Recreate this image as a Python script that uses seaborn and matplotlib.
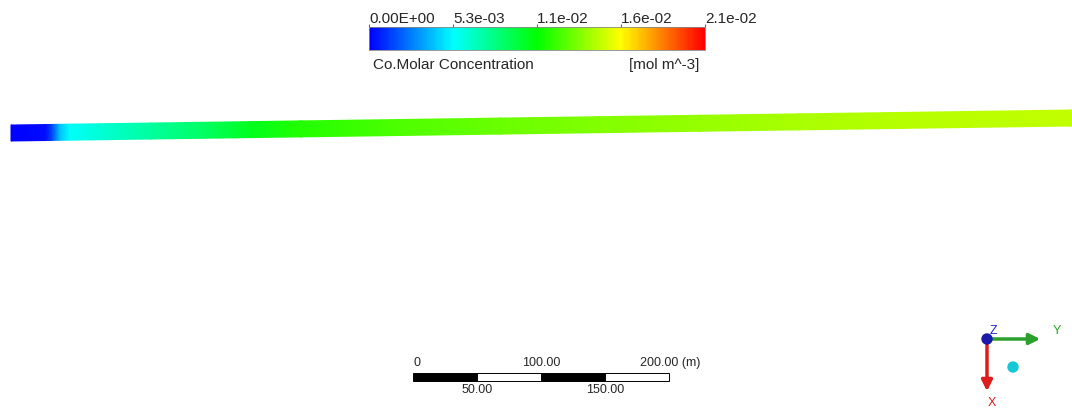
import numpy as np
import matplotlib
matplotlib.use("Agg")
import matplotlib.pyplot as plt
import seaborn as sns
from matplotlib.patches import Rectangle, Circle

sns.set_style("white")
plt.rcParams['font.family'] = ['Liberation Sans', 'DejaVu Sans']

# Co molar concentration along the pipe (distance from inlet in m, mol m^-3)
pipe_dist = [0, 27, 32, 38, 46, 70, 109, 148, 187, 226, 304, 382, 460, 538, 616, 695, 829]
pipe_conc = [0.0, 0.0003, 0.0015, 0.0040, 0.0054, 0.0061, 0.0073, 0.0084, 0.0099,
             0.0112, 0.0121, 0.0127, 0.0132, 0.0136, 0.0140, 0.0142, 0.0145]

# legend / colorbar
cbar_min, cbar_max = 0.0, 0.021
cbar_ticks = [0.0, 0.00525, 0.0105, 0.01575, 0.021]
cbar_labels = ["0.00E+00", "5.3e-03", "1.1e-02", "1.6e-02", "2.1e-02"]

# scale bar (m)
scale_marks = [0, 50, 100, 150, 200]
scale_labels = ["0", "50.00", "100.00", "150.00", "200.00 (m)"]

W, H = 1072, 408
PX_PER_M = 1.28

# CFX style rainbow map
cmap = sns.blend_palette(["#0000ff", "#00ffff", "#00ff00", "#ffff00", "#ff0000"], n_colors=256, as_cmap=True)

fig = plt.figure(figsize=(W / 100, H / 100), dpi=100)
fig.patch.set_facecolor("white")
ax = fig.add_axes([0, 0, 1, 1])
ax.set_xlim(0, W)
ax.set_ylim(H, 0)
ax.axis("off")

# pipe contour (slightly tilted strip)
inlet_x, inlet_y = 11, 133
rise = -15 / 1061
half = 8
xs = inlet_x + np.array(pipe_dist) * PX_PER_M
yc = inlet_y + (xs - inlet_x) * rise
X = np.vstack([xs, xs])
Y = np.vstack([yc - half, yc + half])
C = np.vstack([pipe_conc, pipe_conc])
ax.pcolormesh(X, Y, C, shading="gouraud", cmap=cmap, vmin=cbar_min, vmax=cbar_max)

# colorbar drawn as a 1-row heatmap
cax = fig.add_axes([369 / W, 1 - 50 / H, 336 / W, 23 / H])
n = 300
grad = np.linspace(cbar_min, cbar_max, n)[None, :]
sns.heatmap(grad, cmap=cmap, vmin=cbar_min, vmax=cbar_max, cbar=False,
            xticklabels=False, yticklabels=False, ax=cax)
cax.xaxis.tick_top()
cax.set_xticks(np.array(cbar_ticks) / cbar_max * n)
cax.set_xticklabels(cbar_labels, ha="left", fontsize=11)
cax.tick_params(axis="x", top=True, bottom=False, length=2.5, width=0.8,
                color="#666666", pad=-2)
for s in cax.spines.values():
    s.set_visible(True)
    s.set_linewidth(0.6)
    s.set_color("#888888")

ax.text(373, 65, "Co.Molar Concentration", fontsize=11, va="center", ha="left")
ax.text(699, 65, "[mol m^-3]", fontsize=11, va="center", ha="right")

# scale bar
sb_x, sb_top, sb_h = 413, 373, 8
for i in range(len(scale_marks) - 1):
    x0 = sb_x + scale_marks[i] * PX_PER_M
    w = (scale_marks[i + 1] - scale_marks[i]) * PX_PER_M
    ax.add_patch(Rectangle((x0, sb_top), w, sb_h, facecolor="black" if i % 2 == 0 else "white",
                           edgecolor="black", linewidth=0.7))
for i, (m, lab) in enumerate(zip(scale_marks, scale_labels)):
    x = sb_x + m * PX_PER_M
    if i == 0:
        ax.text(x, 363, lab, fontsize=9, ha="left", va="center")
    elif i == len(scale_marks) - 1:
        ax.text(x + 31, 363, lab, fontsize=9, ha="right", va="center")
    elif i % 2 == 0:
        ax.text(x, 363, lab, fontsize=9, ha="center", va="center")
    else:
        ax.text(x, 390, lab, fontsize=9, ha="center", va="center")

# axis triad
ox, oy = 987, 339
ax.annotate("", xy=(1043, oy), xytext=(ox, oy),
            arrowprops=dict(arrowstyle="-|>", color="#2ca02c", lw=2.5, mutation_scale=16))
ax.annotate("", xy=(ox, 394), xytext=(ox, oy),
            arrowprops=dict(arrowstyle="-|>", color="#dd1c1c", lw=2.5, mutation_scale=16))
ax.add_patch(Circle((ox, oy), 5, color="#1a1aa8", zorder=5))
ax.add_patch(Circle((1013, 367), 5, color="#14c8d8", zorder=5))
ax.text(993, 331, "Z", fontsize=9, color="#2222cc", ha="center", va="center")
ax.text(1057, 331, "Y", fontsize=9, color="#22aa22", ha="center", va="center")
ax.text(992, 403, "X", fontsize=9, color="#dd1c1c", ha="center", va="center")

fig.savefig("out.png", dpi=100, facecolor="white")
